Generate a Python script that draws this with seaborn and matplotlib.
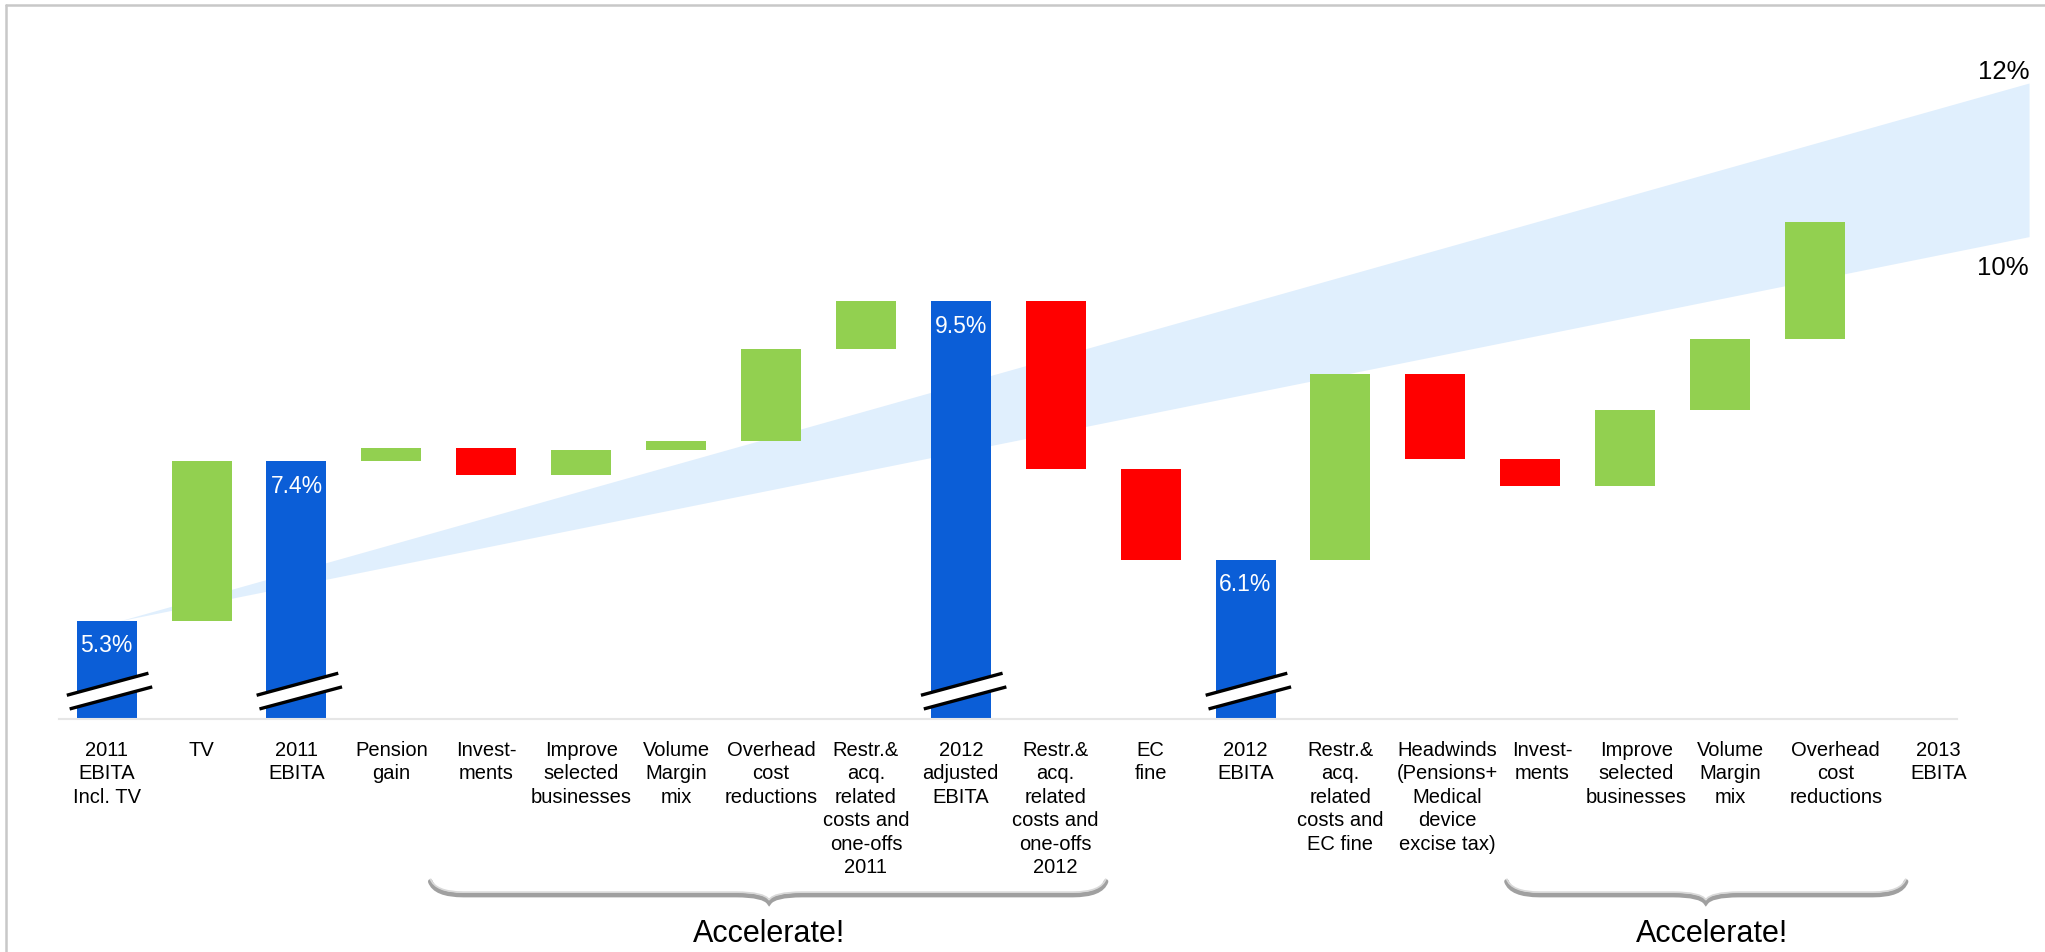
import numpy as np
import pandas as pd
import matplotlib
matplotlib.use("Agg")
import matplotlib.pyplot as plt
from matplotlib.lines import Line2D
from matplotlib.patches import Polygon
from matplotlib.path import Path
from matplotlib.patches import PathPatch
import seaborn as sns

# ---------------- data ----------------
categories = [
    "2011\nEBITA\nIncl. TV", "TV", "2011\nEBITA", "Pension\ngain", "Invest-\nments",
    "Improve\nselected\nbusinesses", "Volume\nMargin\nmix", "Overhead\ncost\nreductions",
    "Restr.&\nacq.\nrelated\ncosts and\none-offs\n2011", "2012\nadjusted\nEBITA",
    "Restr.&\nacq.\nrelated\ncosts and\none-offs\n2012", "EC\nfine", "2012\nEBITA",
    "Restr.&\nacq.\nrelated\ncosts and\nEC fine",
    "Headwinds\n(Pensions+\nMedical\ndevice\nexcise tax)", "Invest-\nments",
    "Improve\nselected\nbusinesses", "Volume\nMargin\nmix", "Overhead\ncost\nreductions",
    "2013\nEBITA",
]
kinds = ["total", "delta", "total", "delta", "delta", "delta", "delta", "delta", "delta",
         "total", "delta", "delta", "total", "delta", "delta", "delta", "delta", "delta",
         "delta", "total"]
values = [5.3, 2.1, 7.4, 0.17, -0.36, 0.33, 0.12, 1.21, 0.63,
          9.5, -2.2, -1.2, 6.1, 2.45, -1.12, -0.36, 1.0, 0.93, 1.54, None]
target_range = [10.35, 12.37]          # band end values (lower, upper)
target_labels = ["10%", "12%"]
accelerate_label = "Accelerate!"

# ---------------- style ----------------
BLUE, GREEN, RED = "#0B5ED7", "#92D050", "#FF0000"
BAND = "#E0EFFD"
FLOOR = 4.008
W, H = 2045, 952
# small horizontal shifts of the category labels (slot units), as laid out in the original
label_shift = [0, 0, 0, 0, 0, 0, 0, 0, 0, 0, 0, 0, 0, 0,
               0.13, 0.13, 0.12, 0.11, 0.22, 0.30]

sns.set_theme(style="white")
plt.rcParams["font.family"] = ["Liberation Sans", "DejaVu Sans"]

fig = plt.figure(figsize=(W / 100, H / 100), dpi=100)
ax = fig.add_axes([0, (H - 719) / H, 1, 719 / H])

# waterfall geometry
bottoms, heights, colors = [], [], []
level = 0.0
for v, k in zip(values, kinds):
    if k == "total":
        if v is None:
            bottoms.append(FLOOR); heights.append(0.0); colors.append("none")
        else:
            bottoms.append(FLOOR); heights.append(v - FLOOR); colors.append(BLUE)
            level = v
    else:
        bottoms.append(level if v >= 0 else level + v)
        heights.append(abs(v))
        colors.append(GREEN if v >= 0 else RED)
        level += v

n = len(categories)
df = pd.DataFrame({"pos": np.arange(n), "height": heights})

# target band behind bars
tip_x, end_x = 0.14, 20.256
ax.fill_between([tip_x, end_x], [values[0], target_range[0]], [values[0], target_range[1]],
                color=BAND, linewidth=0, zorder=0.5)

sns.barplot(data=df, x="pos", y="height", bottom=np.array(bottoms), width=0.632,
            color=BLUE, saturation=1, errorbar=None, linewidth=0, ax=ax, zorder=2)
for patch, c in zip(ax.patches, colors):
    patch.set_facecolor(c)
    patch.set_edgecolor("none")

# value labels and axis-break marks on total bars
for i, (v, k) in enumerate(zip(values, kinds)):
    if k == "total" and v is not None:
        ax.text(i, v - 0.33, f"{v:.1f}%", color="white", fontsize=16.5,
                ha="center", va="center", zorder=6)
        poly = Polygon([(i - 0.42, 4.32), (i + 0.44, 4.61), (i + 0.48, 4.43), (i - 0.39, 4.14)],
                       closed=True, facecolor="white", edgecolor="none", zorder=4)
        ax.add_patch(poly)
        ax.plot([i - 0.42, i + 0.44], [4.32, 4.61], color="black", lw=2.4, zorder=5,
                solid_capstyle="butt")
        ax.plot([i - 0.39, i + 0.48], [4.14, 4.43], color="black", lw=2.4, zorder=5,
                solid_capstyle="butt")

# target labels
ax.text(end_x, target_range[1] + 0.05, target_labels[1], ha="right", va="baseline",
        fontsize=18.5, color="black")
ax.text(end_x, 9.85, target_labels[0], ha="right", va="baseline",
        fontsize=18.5, color="black")

# axes styling
ax.set_xlim(-1.124, 20.424)
ax.set_ylim(FLOOR, FLOOR + 719 / 76.06)
ax.set_xlabel("")
ax.set_ylabel("")
ax.set_yticks([])
ax.set_xticks(np.arange(n) + np.array(label_shift))
ax.set_xticklabels(categories, fontsize=14.5, linespacing=1.3)
ax.tick_params(axis="x", length=0, pad=15.5, colors="black")
for s in ["top", "left", "right"]:
    ax.spines[s].set_visible(False)
ax.spines["bottom"].set_color("#E6E6E6")
ax.spines["bottom"].set_linewidth(1.5)
ax.spines["bottom"].set_bounds(-0.5, n - 0.5)
ax.set_facecolor("none")

# braces with "Accelerate!"
trans = ax.get_xaxis_transform()

def brace(x0, x1, xc):
    y_end, y_line, y_tip = -0.226, -0.2448, -0.2555
    d = 0.35
    verts = [(x0, y_end), (x0 + 0.05, y_line), (x0 + d, y_line),
             (xc - d, y_line), (xc - 0.05, y_line), (xc, y_tip),
             (xc + 0.05, y_line), (xc + d, y_line),
             (x1 - d, y_line), (x1 - 0.05, y_line), (x1, y_end)]
    codes = [Path.MOVETO, Path.CURVE3, Path.CURVE3, Path.LINETO, Path.CURVE3, Path.CURVE3,
             Path.CURVE3, Path.CURVE3, Path.LINETO, Path.CURVE3, Path.CURVE3]
    p = PathPatch(Path(verts, codes), transform=trans, facecolor="none",
                  edgecolor="#A0A0A0", lw=3.4, clip_on=False, capstyle="round")
    ax.add_patch(p)
    p2 = PathPatch(Path([(v[0], v[1] + 0.004) for v in verts], codes), transform=trans,
                   facecolor="none", edgecolor="#D9D9D9", lw=1.2, clip_on=False)
    ax.add_patch(p2)

brace(3.41, 10.53, 6.98)
brace(14.75, 18.96, 16.85)
ax.text(6.98, -0.299, accelerate_label, transform=trans, ha="center", va="center",
        fontsize=22, color="black", clip_on=False)
ax.text(16.92, -0.299, accelerate_label, transform=trans, ha="center", va="center",
        fontsize=22, color="black", clip_on=False)

# frame lines (top, left)
fig.add_artist(Line2D([6 / W, 6 / W], [0, 1 - 5 / H], color="#C8C8C8", lw=1.8))
fig.add_artist(Line2D([6 / W, 1], [1 - 5 / H, 1 - 5 / H], color="#C8C8C8", lw=1.8))

fig.savefig("out.png", dpi=100, facecolor="white")
